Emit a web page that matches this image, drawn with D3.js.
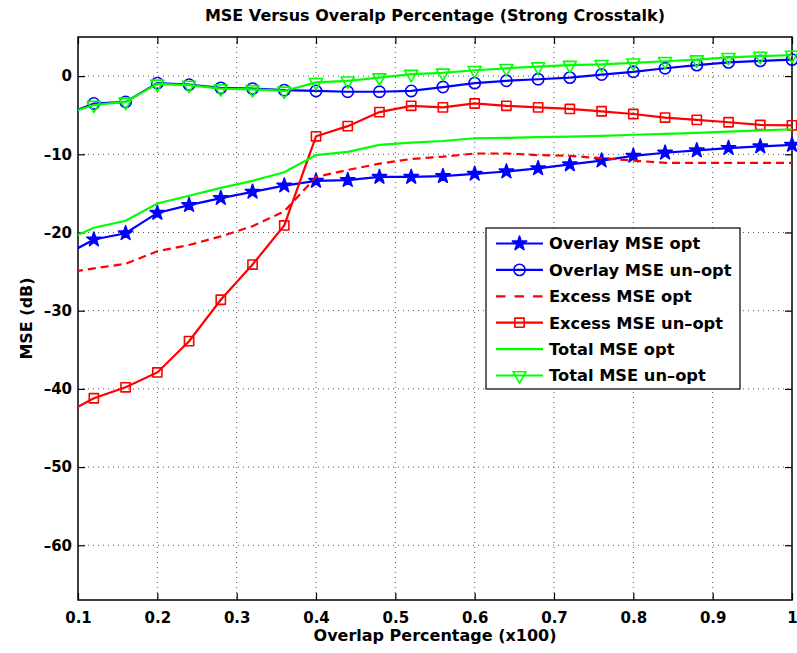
<!DOCTYPE html>
<html>
<head>
<meta charset="utf-8">
<script src="https://cdnjs.cloudflare.com/ajax/libs/d3/7.8.5/d3.min.js"></script>
<style>
    body { margin: 0; background: #fff; }
    text { font-family: "DejaVu Sans", sans-serif; font-weight: bold; }
</style>
</head>
<body>
<svg id="chart" width="797" height="653"></svg>
<script>
// overlap values (the first one sits left of the axis and is clipped)
var overlap = [0.08, 0.12, 0.16, 0.20, 0.24, 0.28, 0.32, 0.36, 0.40, 0.44, 0.48, 0.52,
               0.56, 0.60, 0.64, 0.68, 0.72, 0.76, 0.80, 0.84, 0.88, 0.92, 0.96, 1.00];

var overlayOpt   = [-23.1, -20.9, -20.1, -17.5, -16.5, -15.6, -14.8, -14.0, -13.4, -13.3, -12.9, -12.9,
                    -12.8, -12.5, -12.2, -11.8, -11.3, -10.8, -10.2, -9.8, -9.5, -9.2, -9.0, -8.8];
var overlayUnopt = [-5.1, -3.5, -3.3, -0.9, -1.1, -1.5, -1.6, -1.8, -1.9, -2.0, -2.0, -1.9,
                    -1.4, -0.9, -0.6, -0.4, -0.2, 0.2, 0.55, 1.0, 1.4, 1.75, 1.95, 2.1];
var excessOpt    = [-25.2, -24.6, -24.0, -22.4, -21.6, -20.5, -19.2, -17.3, -12.9, -12.0, -11.2, -10.6,
                    -10.3, -9.9, -9.9, -10.1, -10.2, -10.5, -10.8, -11.1, -11.1, -11.1, -11.1, -11.1];
var excessUnopt  = [-43.4, -41.2, -39.8, -37.9, -33.9, -28.6, -24.1, -19.1, -7.7, -6.4, -4.6, -3.8,
                    -4.0, -3.5, -3.8, -4.0, -4.2, -4.5, -4.85, -5.3, -5.6, -5.9, -6.25, -6.3];
var totalOpt     = [-21.2, -19.4, -18.5, -16.3, -15.3, -14.3, -13.4, -12.3, -10.1, -9.7, -8.8, -8.5,
                    -8.3, -7.95, -7.9, -7.8, -7.75, -7.65, -7.5, -7.4, -7.25, -7.1, -6.95, -6.8];
var totalUnopt   = [-5.0, -3.7, -3.3, -1.0, -1.15, -1.6, -1.7, -1.9, -0.8, -0.6, -0.2, 0.25,
                    0.4, 0.75, 1.0, 1.2, 1.4, 1.5, 1.7, 1.9, 2.1, 2.4, 2.55, 2.7];

var xTicks = [0.1, 0.2, 0.3, 0.4, 0.5, 0.6, 0.7, 0.8, 0.9, 1];
var yTicks = [0, -10, -20, -30, -40, -50, -60];

var series = [
    {name: 'Overlay MSE opt',    values: overlayOpt,   color: '#0000ff', marker: 'star'},
    {name: 'Overlay MSE un-opt', values: overlayUnopt, color: '#0000ff', marker: 'circle'},
    {name: 'Excess MSE opt',     values: excessOpt,    color: '#ff0000', marker: null, dash: '8,5'},
    {name: 'Excess MSE un-opt',  values: excessUnopt,  color: '#ff0000', marker: 'square'},
    {name: 'Total MSE opt',      values: totalOpt,     color: '#00ff00', marker: null},
    {name: 'Total MSE un-opt',   values: totalUnopt,   color: '#00ff00', marker: 'triangle'}
];

var svg = d3.select('#chart');
var pLeft = 78, pRight = 792, pTop = 37, pBottom = 600;

var x = d3.scaleLinear().domain([0.1, 1]).range([pLeft, pRight]);
var y = d3.scaleLinear().domain([-67, 5]).range([pBottom, pTop]);

function label(v) { return String(v).replace('-', '\u2013'); }

svg.append('clipPath').attr('id', 'plot')
    .append('rect').attr('x', pLeft).attr('y', pTop)
    .attr('width', pRight - pLeft).attr('height', pBottom - pTop);

// dotted grid
svg.append('g').selectAll('line').data(xTicks.slice(1, -1)).enter().append('line')
    .attr('x1', x).attr('x2', x).attr('y1', pTop).attr('y2', pBottom)
    .attr('stroke', '#555').attr('stroke-dasharray', '1,4');
svg.append('g').selectAll('line').data(yTicks).enter().append('line')
    .attr('x1', pLeft).attr('x2', pRight).attr('y1', y).attr('y2', y)
    .attr('stroke', '#555').attr('stroke-dasharray', '1,4');

// axes with inward ticks
var fs = '15px';
var xAxis = svg.append('g').attr('transform', 'translate(0,' + pBottom + ')')
    .call(d3.axisBottom(x).tickValues(xTicks).tickSizeInner(-7).tickSizeOuter(0).tickPadding(12)
        .tickFormat(function(d) { return d3.format('')(d); }));
var xTop = svg.append('g').attr('transform', 'translate(0,' + pTop + ')')
    .call(d3.axisTop(x).tickValues(xTicks).tickSizeInner(-7).tickSizeOuter(0).tickFormat(''));
var yAxis = svg.append('g').attr('transform', 'translate(' + pLeft + ',0)')
    .call(d3.axisLeft(y).tickValues(yTicks).tickSizeInner(-7).tickSizeOuter(0).tickPadding(6)
        .tickFormat(label));
var yRight = svg.append('g').attr('transform', 'translate(' + pRight + ',0)')
    .call(d3.axisRight(y).tickValues(yTicks).tickSizeInner(-7).tickSizeOuter(0).tickFormat(''));

[xAxis, xTop, yAxis, yRight].forEach(function(g) {
    g.select('.domain').remove();
    g.selectAll('line').attr('stroke', '#000').attr('stroke-width', 1.2);
    g.selectAll('text').attr('fill', '#000').style('font-size', fs)
        .style('font-family', '"DejaVu Sans", sans-serif');
});
xAxis.selectAll('text').attr('dy', '0.71em');

svg.append('rect').attr('x', pLeft).attr('y', pTop)
    .attr('width', pRight - pLeft).attr('height', pBottom - pTop)
    .attr('fill', 'none').attr('stroke', '#000').attr('stroke-width', 1.5);

// series
var line = d3.line()
    .x(function(d, i) { return x(overlap[i]); })
    .y(function(d) { return y(d); });

function symbolPath(type) {
    if (type === 'star') return d3.symbol().type(d3.symbolStar).size(64)();
    if (type === 'circle') return d3.symbol().type(d3.symbolCircle).size(100)();
    if (type === 'square') return d3.symbol().type(d3.symbolSquare).size(85)();
    if (type === 'triangle') return d3.symbol().type(d3.symbolTriangle).size(75)();
}

function drawMarker(g, type, color, cx, cy) {
    var p = g.append('path').attr('d', symbolPath(type))
        .attr('stroke', color).attr('stroke-width', 1.6)
        .attr('stroke-linejoin', 'round')
        .attr('fill', type === 'star' ? color : 'none');
    var t = 'translate(' + cx + ',' + cy + ')';
    if (type === 'triangle') t += ' rotate(180)';
    p.attr('transform', t);
}

var plotG = svg.append('g');
series.forEach(function(s) {
    plotG.append('path').datum(s.values)
        .attr('clip-path', 'url(#plot)')
        .attr('d', line)
        .attr('fill', 'none').attr('stroke', s.color).attr('stroke-width', 2.2)
        .attr('stroke-dasharray', s.dash || null);
    if (s.marker) {
        s.values.forEach(function(v, i) {
            if (overlap[i] < 0.1) return;
            drawMarker(plotG, s.marker, s.color, x(overlap[i]), y(v));
        });
    }
});

// legend
var lg = svg.append('g');
lg.append('rect').attr('x', 486).attr('y', 228).attr('width', 254).attr('height', 161)
    .attr('fill', '#fff').attr('stroke', '#000').attr('stroke-width', 1.2);
series.forEach(function(s, i) {
    var ly = 243.5 + i * 26.4;
    lg.append('line').attr('x1', 496).attr('x2', 543).attr('y1', ly).attr('y2', ly)
        .attr('stroke', s.color).attr('stroke-width', 2.2)
        .attr('stroke-dasharray', s.dash ? '9.5,9' : null);
    if (s.marker) drawMarker(lg, s.marker, s.color, 519.5, ly);
    lg.append('text').attr('x', 549).attr('y', ly).attr('dy', '0.36em')
        .style('font-size', '16.3px').text(s.name.replace('-', '\u2013'));
});

// titles
svg.append('text').attr('x', (pLeft + pRight) / 2).attr('y', 21)
    .attr('text-anchor', 'middle').style('font-size', '16px')
    .text('MSE Versus Overalp Percentage (Strong Crosstalk)');
svg.append('text').attr('x', (pLeft + pRight) / 2).attr('y', 641)
    .attr('text-anchor', 'middle').style('font-size', '16px')
    .text('Overlap Percentage (x100)');
svg.append('text').attr('transform', 'translate(32,' + (pTop + pBottom) / 2 + ') rotate(-90)')
    .attr('text-anchor', 'middle').style('font-size', '16px')
    .text('MSE (dB)');
</script>
</body>
</html>
